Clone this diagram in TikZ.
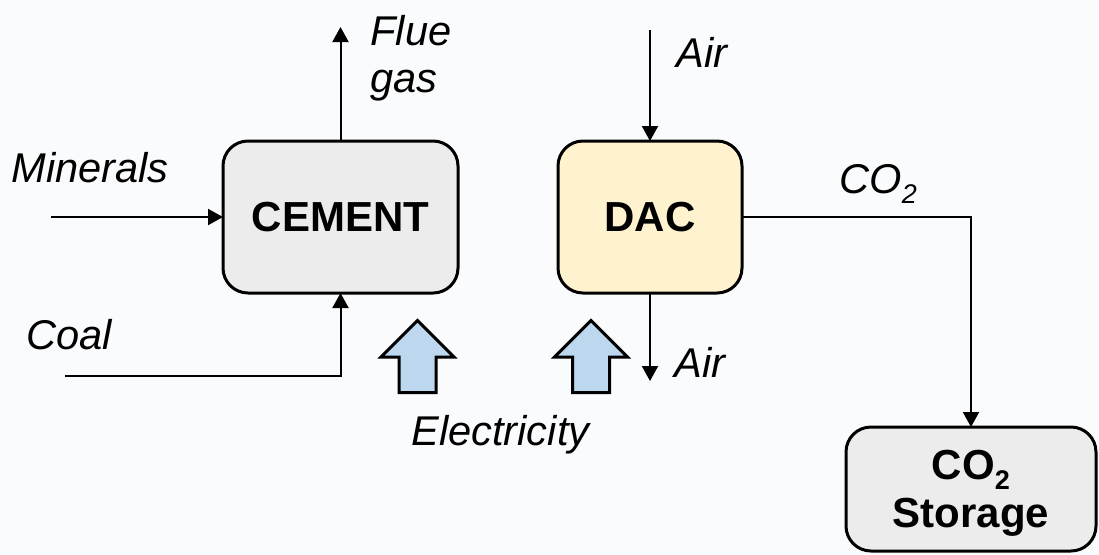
\documentclass[tikz,border=0pt]{standalone}
\usepackage{fontspec}
\setmainfont{Liberation Sans}
\usetikzlibrary{arrows.meta,positioning,shapes.arrows}
\definecolor{pagebg}{RGB}{250,251,253}
\definecolor{cementfill}{RGB}{236,236,236}
\definecolor{dacfill}{RGB}{255,242,206}
\definecolor{elecfill}{RGB}{189,215,238}
\newcommand{\subtwo}{\raisebox{-5pt}{\fontsize{13.5}{14}\selectfont 2}}

\begin{document}
\begin{tikzpicture}[
        x=0.5pt, y=-0.5pt,
        unitbox/.style={draw=black, rounded corners=12.5pt, line width=1.5pt, align=center, font=\fontsize{21}{24}\selectfont\bfseries, inner sep=0pt, outer sep=0pt},
        cementbox/.style={unitbox, fill=cementfill, minimum width=117.5pt, minimum height=76pt},
        dacbox/.style={unitbox, fill=dacfill, minimum width=92pt, minimum height=76pt},
        storebox/.style={unitbox, fill=cementfill, minimum width=125pt, minimum height=62pt, text depth=0pt},
        stream/.style={font=\fontsize{20.8}{23.5}\selectfont\itshape, inner sep=0pt, align=left},
        link/.style={draw=black, line width=1pt, -{Triangle[length=7.5pt,width=8pt]}},
        power/.style={single arrow, draw=black, fill=elecfill, line width=1.5pt, shape border rotate=90, minimum height=36pt, single arrow head extend=9pt, inner sep=8.5pt, anchor=tail}
    ]
        \fill[pagebg] (0,0) rectangle (1099,554);
        \useasboundingbox (0,0) rectangle (1099,554);

        \node[cementbox] (cement) at (340.5,217) {CEMENT};
        \node[dacbox, right=50pt of cement] (dac) {DAC};
        \node[storebox, below right=67pt and 52pt of dac] (storage) {CO\subtwo\\Storage};

        \node[power] (powercement) at (417.5,394) {};
        \node[power] (powerdac) at (591,394) {};

        \coordinate[above=57pt of cement.north] (fluetop);
        \coordinate[left=86pt of cement.west] (mineralsin);
        \coordinate (coalin) at (65,376);
        \coordinate[above=55.5pt of dac.north] (airin);
        \coordinate[below=44pt of dac.south] (airout);

        \node[stream, anchor=base west] (fluelabel) at (370,92) {Flue\\gas};
        \node[stream, anchor=base west] (mineralslabel) at (11,182) {Minerals};
        \node[stream, anchor=base west] (coallabel) at (26,349) {Coal};
        \node[stream, anchor=base west] (airinlabel) at (676,67) {Air};
        \node[stream, anchor=base west] (airoutlabel) at (674,377) {Air};
        \node[stream, anchor=base west] (co2label) at (839,193) {CO\subtwo};
        \node[stream, anchor=base west] (eleclabel) at (411,445) {Electricity};

        \draw[link] (cement.north) -- (fluetop);
        \draw[link] (mineralsin) -- (cement.west);
        \draw[link] (coalin) -| (cement.south);
        \draw[link] (airin) -- (dac.north);
        \draw[link] (dac.south) -- (airout);
        \draw[link] (dac.east) -| (storage.north);
    \end{tikzpicture}
\end{document}
